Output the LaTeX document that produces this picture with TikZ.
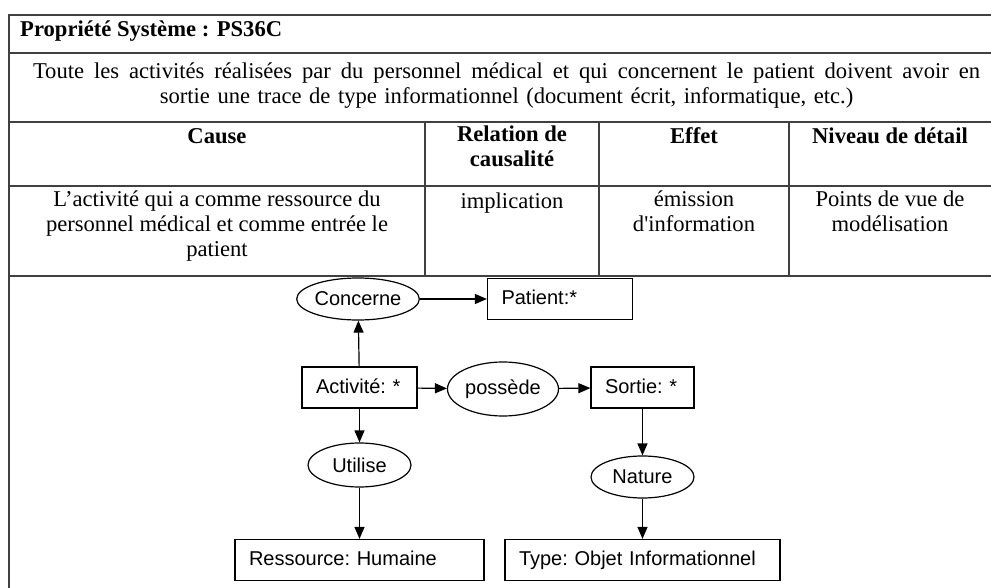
\documentclass[tikz,border=0pt]{standalone}
\usepackage{fontspec}
\setmainfont{Liberation Serif}
\newfontfamily\diagfont{Liberation Sans}
\usetikzlibrary{arrows.meta,shapes.geometric}

\begin{document}
\begin{tikzpicture}[x=1pt, y=-1pt,
   rule/.style={line width=1.6pt, draw=black!75},
   cell/.style={font=\fontsize{22.6}{25}\selectfont, align=center, anchor=north, inner sep=0pt,
                execute at begin node=\strut},
   head/.style={cell, font=\fontsize{22.6}{25}\selectfont\bfseries},
   concept/.style={draw, rectangle, line width=1.2pt, font=\diagfont\fontsize{20}{24}\selectfont,
                   align=left, inner xsep=14pt, inner ysep=0pt, minimum height=41pt,
                   text height=15pt, text depth=4pt, execute at begin node=\frenchspacing},
   relation/.style={draw, ellipse, line width=1.2pt, font=\diagfont\fontsize{20}{24}\selectfont,
                    inner sep=0pt},
   link/.style={-{Triangle[length=12pt,width=10pt]}, line width=1.2pt}]

\useasboundingbox (0,0) rectangle (991,588);

% table
\draw[rule] (9,588) -- (9,15) -- (991,15);
\draw[rule] (9,53) -- (991,53);
\draw[rule] (9,122) -- (991,122);
\draw[rule] (9,186) -- (991,186);
\draw[rule] (9,276) -- (991,276);
\foreach \x in {425,599,789}
   \draw[rule] (\x,122) -- (\x,276);

\node[head, anchor=north west] (titre) at (20,18.5) {Propriété Système : PS36C};
\node[cell, text width=947pt] (enonce) at (506.5,60.5) {\hbox to 947pt{\spaceskip=0.25em plus 1em\relax Toute les activités réalisées par du personnel médical et qui concernent le patient doivent avoir en}\\
   sortie une trace de type informationnel (document écrit, informatique, etc.)};

\node[head] (cause) at (217,125.5) {Cause};
\node[head] (relation) at (512,125.5) {Relation de\\causalité};
\node[head] (effet) at (694,125.5) {Effet};
\node[head] (niveau) at (890,125.5) {Niveau de détail};

\node[cell] (causeval) at (217,190.5) {L’activité qui a comme ressource du\\personnel médical et comme entrée le\\patient};
\node[cell] (relval) at (512,190.5) {implication};
\node[cell] (effetval) at (694,190.5) {émission\\d\textquotesingle information};
\node[cell] (niveauval) at (890,190.5) {Points de vue de\\modélisation};

% graph
\node[relation, minimum width=102pt, minimum height=42pt] (concerne) at (358,299) {Concerne};
\node[concept, text width=117pt] (patient) at (560,299) {Patient:*};
\node[concept, text width=87pt] (activite) at (359.5,387.5) {Activité: *};
\node[relation, minimum width=111pt, minimum height=54pt] (possede) at (503,389) {possède};
\node[concept, text width=75pt] (sortie) at (642.5,387.5) {Sortie: *};
\node[relation, minimum width=103pt, minimum height=44pt] (utilise) at (359.5,465) {Utilise};
\node[relation, minimum width=103pt, minimum height=42pt] (nature) at (642.5,477) {Nature};
\node[concept, text width=221pt] (ressource) at (359.5,560) {Ressource: Humaine};
\node[concept, text width=247pt] (type) at (642.5,560) {Type: Objet Informationnel};

\draw[link] (activite) -- (concerne);
\draw[link] (concerne) -- (patient);
\draw[link] (activite) -- (possede);
\draw[link] (possede) -- (sortie);
\draw[link] (activite) -- (utilise);
\draw[link] (utilise) -- (ressource);
\draw[link] (sortie) -- (nature);
\draw[link] (nature) -- (type);

\end{tikzpicture}
\end{document}
